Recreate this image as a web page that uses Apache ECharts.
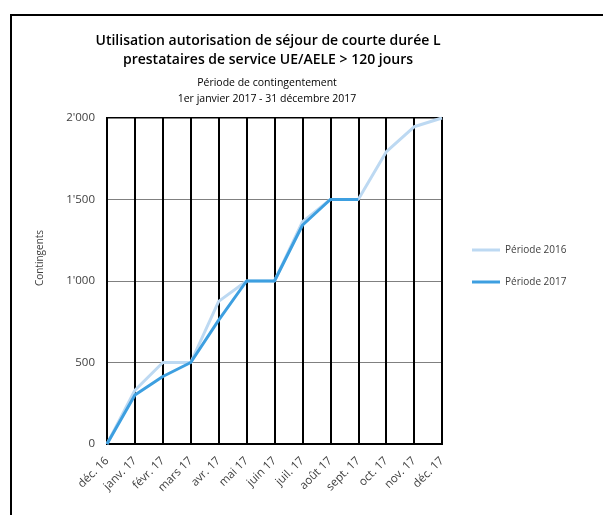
<!DOCTYPE html>
<html>
<head>
<meta charset="utf-8">
<script src="https://cdn.jsdelivr.net/npm/echarts@6/dist/echarts.min.js"></script>
<style>html,body{margin:0;padding:0;background:#fff}#c{width:603px;height:515px}</style>
</head>
<body>
<div id="c"></div>
<script>
var categories = ['déc. 16','janv. 17','févr. 17','mars 17','avr. 17','mai 17','juin 17','juil. 17','août 17','sept. 17','oct. 17','nov. 17','déc. 17'];
var periode2016 = [0, 330, 500, 500, 875, 1000, 1000, 1362, 1500, 1500, 1792, 1946, 2000];
var periode2017 = [0, 300, 414, 500, 760, 1000, 1000, 1342, 1500, 1500];
var titleText = 'Utilisation autorisation de séjour de courte durée L\nprestataires de service UE/AELE > 120 jours';
var subtitleText = 'Période de contingentement\n1er janvier 2017 - 31 décembre 2017';
var yAxisName = 'Contingents';
var FONT = '"Open Sans", "Noto Sans", sans-serif';

var chart = echarts.init(document.getElementById('c'), null, {renderer: 'canvas'});
chart.setOption({
  backgroundColor: '#fff',
  animation: false,
  graphic: [{
    type: 'polyline', shape: {points: [[11, 530], [11, 15], [610, 15]]},
    style: {fill: 'none', stroke: '#000', lineWidth: 2}, silent: true
  }, {
    type: 'text', x: 40, y: 258, rotation: Math.PI / 2,
    style: {text: yAxisName, fontFamily: FONT, fontSize: 10, fill: '#404040', align: 'center', verticalAlign: 'middle'},
    silent: true
  }],
  title: [{
    text: titleText, left: 263, top: 27, textAlign: 'center',
    textStyle: {fontFamily: FONT, fontSize: 14, fontWeight: 600, color: '#000', lineHeight: 19}
  }, {
    text: subtitleText, left: 262, top: 70, textAlign: 'center',
    textStyle: {fontFamily: FONT, fontSize: 10.5, fontWeight: 'normal', color: '#000', lineHeight: 16}
  }],
  legend: {
    orient: 'vertical', left: 467, top: 240, itemWidth: 28, itemHeight: 3, itemGap: 22,
    icon: 'rect',
    textStyle: {fontFamily: FONT, fontSize: 10, color: '#404040'},
    data: ['Période 2016', 'Période 2017']
  },
  grid: {left: 107, right: 161, top: 118, bottom: 71, show: true, borderColor: '#000', borderWidth: 2, containLabel: false},
  xAxis: {
    type: 'category', data: categories, boundaryGap: false,
    axisLine: {show: true, lineStyle: {color: '#000', width: 2}},
    axisTick: {show: false},
    splitLine: {show: true, lineStyle: {color: '#000', width: 2}},
    axisLabel: {rotate: 45, fontFamily: FONT, fontSize: 11.5, color: '#404040', margin: 15, interval: 0}
  },
  yAxis: {
    type: 'value', min: 0, max: 2000, interval: 500,
    axisLine: {show: true, lineStyle: {color: '#000', width: 2}},
    axisTick: {show: false},
    splitLine: {show: true, lineStyle: {color: '#808080', width: 1}},
    axisLabel: {fontFamily: FONT, fontSize: 11.5, color: '#404040', margin: 12,
      formatter: function (v) { return v >= 1000 ? Math.floor(v / 1000) + "'" + String(v % 1000).padStart(3, '0') : String(v); }}
  },
  series: [{
    name: 'Période 2016', type: 'line', data: periode2016, symbol: 'none',
    lineStyle: {color: '#bdd9f2', width: 3}, itemStyle: {color: '#bdd9f2'}
  }, {
    name: 'Période 2017', type: 'line', data: periode2017, symbol: 'none',
    lineStyle: {color: '#3d9fe0', width: 3}, itemStyle: {color: '#3d9fe0'}
  }]
});
</script>
</body>
</html>
